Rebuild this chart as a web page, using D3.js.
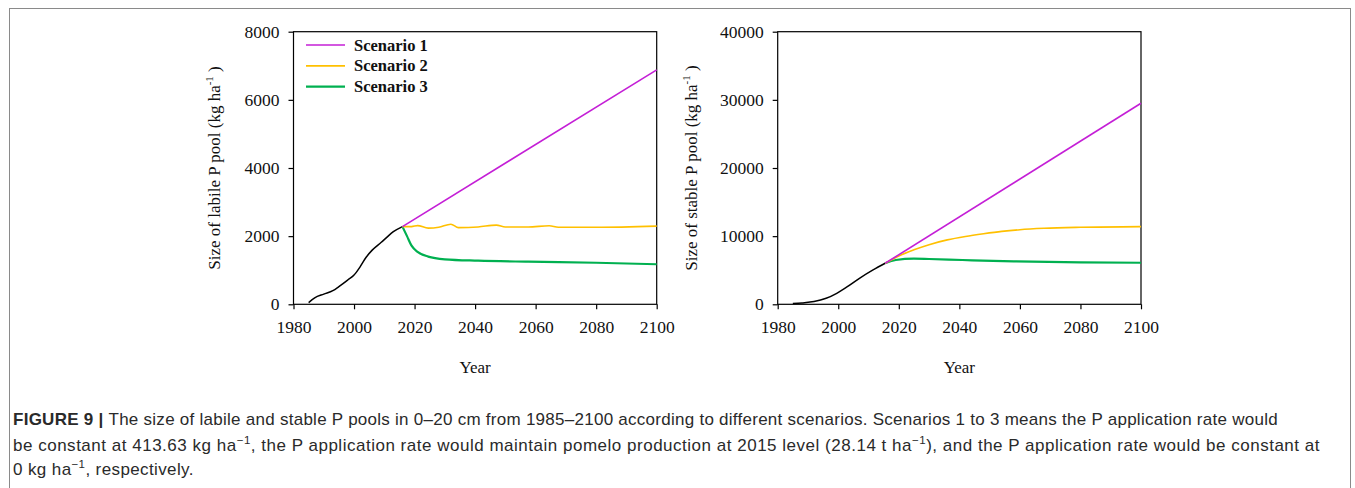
<!DOCTYPE html>
<html><head><meta charset="utf-8">
<script src="https://cdn.jsdelivr.net/npm/d3@7"></script>
<style>
html,body{margin:0;padding:0;background:#fff;}
svg{display:block;}
</style></head>
<body>
<svg id="c" width="1355" height="488"></svg>
<script>
// ---------- DATA ----------
const seriesNames = ["Scenario 1", "Scenario 2", "Scenario 3"];
const xTicks = [1980, 2000, 2020, 2040, 2060, 2080, 2100];
const labileTicks = [0, 2000, 4000, 6000, 8000];
const stableTicks = [0, 10000, 20000, 30000, 40000];

// Labile P pool (kg ha-1)
const labileHistYears = [1985, 1987, 1990, 1993, 1995, 1998, 2000, 2002, 2004, 2006, 2009, 2011, 2013, 2016];
const labileHist      = [50, 190, 300, 400, 520, 720, 860, 1100, 1380, 1590, 1820, 1980, 2130, 2280];
const labileS1Years = [2016, 2100];
const labileS1      = [2280, 6880];
const labileS2Years = [2016, 2019, 2021, 2024.5, 2028, 2032, 2034.5, 2041, 2047, 2050, 2057.5, 2064.5, 2067.5, 2080, 2100];
const labileS2      = [2280, 2280, 2310, 2235, 2260, 2350, 2250, 2270, 2325, 2270, 2270, 2305, 2260, 2260, 2295];
const labileS3Years = [2016, 2017.5, 2019, 2021, 2024.5, 2030, 2041, 2057.5, 2080, 2100];
const labileS3      = [2280, 2000, 1720, 1540, 1400, 1320, 1280, 1250, 1220, 1175];

// Stable P pool (kg ha-1)
const stableHistYears = [1985, 1988, 1992, 1996, 1999.5, 2003, 2007, 2011.5, 2015.5];
const stableHist      = [100, 200, 400, 880, 1610, 2590, 3810, 5040, 6020];
const stableS1Years = [2015.5, 2100];
const stableS1      = [6020, 29500];
const stableS2Years = [2015.5, 2020, 2025, 2030, 2036, 2042, 2048, 2054, 2060, 2068, 2080, 2100];
const stableS2      = [6020, 7100, 8000, 8750, 9450, 9950, 10350, 10700, 10950, 11150, 11300, 11400];
const stableS3Years = [2015.5, 2019, 2025, 2030, 2041, 2058, 2080, 2100];
const stableS3      = [6020, 6500, 6700, 6650, 6500, 6300, 6150, 6100];

const colors = ["#c41fd6", "#ffc000", "#00b050"];
const widths = [1.6, 1.6, 2.2];

// ---------- DRAW ----------
const svg = d3.select("#c");
const serif = "'Liberation Serif','Times New Roman',serif";

// outer frame
svg.append("rect").attr("x", 9.5).attr("y", 8.5).attr("width", 1341).attr("height", 500)
  .attr("fill", "none").attr("stroke", "#8a8a8a").attr("stroke-width", 1);

const zip = (xs, ys) => xs.map((x, i) => [x, ys[i]]);

function panel(opt) {
  const {left, right, top, bottom, yMax, yTicks, labelX, labelText, hist, s} = opt;
  const x = d3.scaleLinear().domain([1980, 2100]).range([left, right]);
  const y = d3.scaleLinear().domain([0, yMax]).range([bottom, top]);
  const g = svg.append("g");

  g.append("rect").attr("x", left).attr("y", top).attr("width", right - left).attr("height", bottom - top)
    .attr("fill", "none").attr("stroke", "#000").attr("stroke-width", 1.2);

  const ax = g.append("g").attr("transform", `translate(0,${bottom})`)
    .call(d3.axisBottom(x).tickValues(xTicks).tickFormat(d3.format("d")).tickSize(5).tickSizeOuter(0).tickPadding(11));
  const ay = g.append("g").attr("transform", `translate(${left},0)`)
    .call(d3.axisLeft(y).tickValues(yTicks).tickFormat(d3.format("d")).tickSize(5).tickSizeOuter(0).tickPadding(9));
  [ax, ay].forEach(a => {
    a.select(".domain").remove();
    a.selectAll(".tick line").attr("stroke", "#000").attr("stroke-width", 1.2);
    a.selectAll("text").attr("font-family", serif).attr("font-size", 17.5).attr("fill", "#111");
  });

  g.append("text").attr("x", (left + right) / 2).attr("y", 373).attr("text-anchor", "middle")
    .attr("font-family", serif).attr("font-size", 17).attr("fill", "#111").text("Year");

  const yl = g.append("text").attr("transform", `translate(${labelX},${(top + bottom) / 2}) rotate(-90)`)
    .attr("text-anchor", "middle").attr("font-family", serif).attr("font-size", 17).attr("fill", "#111");
  yl.append("tspan").text(labelText + " (kg ha");
  yl.append("tspan").attr("dy", -7).attr("font-size", 11).text("-1");
  yl.append("tspan").attr("dy", 7).text(" )");

  const straight = d3.line().x(d => x(d[0])).y(d => y(d[1]));
  const smooth = d3.line().x(d => x(d[0])).y(d => y(d[1])).curve(d3.curveMonotoneX);
  g.append("path").datum(hist).attr("d", smooth).attr("fill", "none").attr("stroke", "#000").attr("stroke-width", 1.5);
  [2, 1, 0].forEach(i => {
    g.append("path").datum(s[i]).attr("d", i === 0 ? straight : smooth).attr("fill", "none")
      .attr("stroke", colors[i]).attr("stroke-width", widths[i]).attr("stroke-linejoin", "round");
  });
}

panel({left: 293.5, right: 656.7, top: 31.7, bottom: 304.3, yMax: 8000, yTicks: labileTicks,
  labelX: 220, labelText: "Size of labile P pool",
  hist: zip(labileHistYears, labileHist),
  s: [zip(labileS1Years, labileS1), zip(labileS2Years, labileS2), zip(labileS3Years, labileS3)]});

panel({left: 777.7, right: 1141, top: 31.7, bottom: 304.3, yMax: 40000, yTicks: stableTicks,
  labelX: 697, labelText: "Size of stable P pool",
  hist: zip(stableHistYears, stableHist),
  s: [zip(stableS1Years, stableS1), zip(stableS2Years, stableS2), zip(stableS3Years, stableS3)]});

// legend
const leg = svg.append("g");
const legY = d3.scalePoint().domain(seriesNames).range([45, 86.7]);
seriesNames.forEach((n, i) => {
  leg.append("line").attr("x1", 306).attr("x2", 345).attr("y1", legY(n)).attr("y2", legY(n))
    .attr("stroke", colors[i]).attr("stroke-width", widths[i]);
  leg.append("text").attr("x", 354).attr("y", legY(n) + 5.5).attr("font-family", serif)
    .attr("font-weight", "bold").attr("font-size", 16.5).attr("fill", "#111").text(n);
});

// caption
const sans = "'Liberation Sans',Arial,sans-serif";
const cap = svg.append("g").attr("font-family", sans).attr("fill", "#2a2a2a");
const capFont = 17;
const capX = 13;
function capLine(yb, parts) {
  const t = cap.append("text").attr("x", capX).attr("y", yb).attr("font-size", capFont);
  parts.forEach(p => {
    const ts = t.append("tspan").text(p.t);
    if (p.b) ts.attr("font-weight", "bold");
    if (p.sup) ts.attr("dy", -7).attr("font-size", 11.5);
    if (p.down) ts.attr("dy", 7);
  });
  return t;
}
const l1 = capLine(425, [{t: "FIGURE 9 | ", b: true},
  {t: "The size of labile and stable P pools in 0–20 cm from 1985–2100 according to different scenarios. Scenarios 1 to 3 means the P application rate would"}]);
const l2 = capLine(451, [{t: "be constant at 413.63 kg ha"}, {t: "−1", sup: true},
  {t: ", the P application rate would maintain pomelo production at 2015 level (28.14 t ha", down: true},
  {t: "−1", sup: true}, {t: "), and the P application rate would be constant at", down: true}]);
const l3 = capLine(475, [{t: "0 kg ha"}, {t: "−1", sup: true}, {t: ", respectively.", down: true}]);

// fit letter-spacing of each full line to the width it has in the figure
function fit(t, w) {
  const n = t.text().length;
  const cur = t.node().getComputedTextLength();
  const ls = (w - cur) / n;
  t.attr("letter-spacing", ls.toFixed(3));
  return ls;
}
const a = fit(l1, 1278 - capX);
const b = fit(l2, 1320 - capX);
l3.attr("letter-spacing", ((a + b) / 2).toFixed(3));
</script>
</body></html>
